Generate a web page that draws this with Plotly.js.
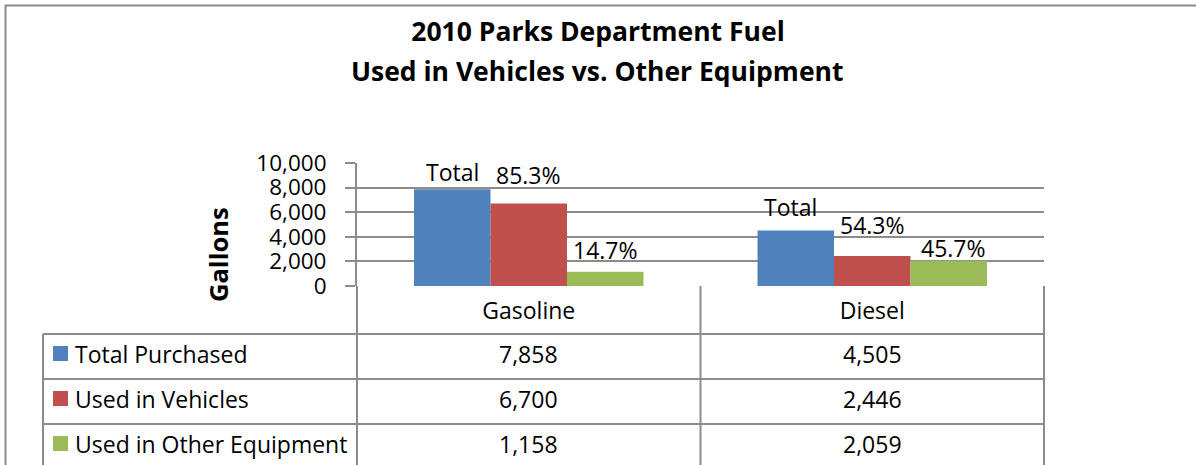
<!DOCTYPE html>
<html><head><meta charset="utf-8">
<script src="https://cdn.plot.ly/plotly-3.0.1.min.js"></script>
<style>html,body{margin:0;padding:0;background:#fff;}#chart{width:1196px;height:465px;}</style>
</head><body><div id="chart"></div>
<script>
// ---- data ----
const categories = ['Gasoline', 'Diesel'];
const seriesNames = ['Total Purchased', 'Used in Vehicles', 'Used in Other Equipment'];
const totalPurchased = [7858, 4505];
const usedInVehicles = [6700, 2446];
const usedInOtherEquipment = [1158, 2059];
const gasolineLabels = ['Total', '85.3%', '14.7%'];
const dieselLabels = ['Total', '54.3%', '45.7%'];
const yTickValues = [0, 2000, 4000, 6000, 8000, 10000];
const titleLines = ['2010 Parks Department Fuel', 'Used in Vehicles vs. Other Equipment'];
const yTitle = 'Gallons';

// ---- style / layout ----
const colors = ['#4F81BD', '#C0504D', '#9BBB59'];
const W = 1196, H = 465;
const M = {l: 357, r: 152, t: 163, b: 179};
const plotW = W - M.l - M.r, plotH = H - M.t - M.b;
const px = x => (x - M.l) / plotW;          // pixel x -> paper
const py = y => (H - M.b - y) / plotH;      // pixel y -> paper
const FONT = '"Open Sans", Lato, sans-serif';
const gray = '#8c8c8c';
const fs = 23;
const tickFs = 22.5;
const tfs = 26.5;

const seriesValues = [totalPurchased, usedInVehicles, usedInOtherEquipment];
const labelSets = [gasolineLabels, dieselLabels];
const labelRaise = [[17, 29, 22], [24, 31, 13]];
const labelNudge = [[0, 0, 0], [-5, 0, 5]];
const barGap = 0.332;
const barPx = plotW / categories.length * (1 - barGap) / seriesNames.length;

const traces = seriesNames.map((name, i) => ({
  type: 'bar', name: name, x: categories, y: seriesValues[i],
  marker: {color: colors[i], line: {width: 0}},
  hoverinfo: 'x+y+name'
}));

const annotations = [];
labelSets.forEach((labels, c) => {
  labels.forEach((t, i) => {
    annotations.push({
      xref: 'x', yref: 'y', x: categories[c], y: seriesValues[i][c],
      text: t, showarrow: false, xanchor: 'center', yanchor: 'middle',
      xshift: (i - 1) * barPx + labelNudge[c][i], yshift: labelRaise[c][i],
      font: {family: FONT, size: fs, color: '#000'}
    });
  });
});

// second title line
annotations.push({
  xref: 'paper', yref: 'paper', x: px(597), y: py(71), xanchor: 'center', yanchor: 'middle',
  text: '<b>' + titleLines[1] + '</b>', showarrow: false,
  font: {family: FONT, size: tfs, color: '#000'}
});
// y axis title
annotations.push({
  xref: 'paper', yref: 'paper', x: px(218), y: py(255), xanchor: 'center', yanchor: 'middle',
  text: '<b>' + yTitle + '</b>', textangle: -90, showarrow: false,
  font: {family: FONT, size: 25.5, color: '#000'}
});

// data table
const rowTops = [334, 379, 424];
const rowH = 45;
const colCenters = [528.5, 872];
const shapes = [];
const line = (x0, y0, x1, y1) => shapes.push({
  type: 'line', xref: 'paper', yref: 'paper', x0: px(x0), y0: py(y0), x1: px(x1), y1: py(y1),
  line: {color: gray, width: 2}
});
rowTops.forEach(y => line(43, y, 1044, y));
line(43, 334, 43, 470);
line(357, 286, 357, 470);
line(700.5, 286, 700.5, 470);
line(1044, 286, 1044, 470);
// outer chart border
line(5, 5.5, 1200, 5.5);
line(5.5, 5, 5.5, 470);

seriesNames.forEach((name, i) => {
  const cy = rowTops[i] + rowH / 2 - 3;
  shapes.push({type: 'rect', xref: 'paper', yref: 'paper',
    x0: px(53), x1: px(68), y0: py(cy - 7.5), y1: py(cy + 7.5),
    fillcolor: colors[i], line: {width: 0}});
  annotations.push({xref: 'paper', yref: 'paper', x: px(73), y: py(cy), xanchor: 'left', yanchor: 'middle',
    text: name, showarrow: false, font: {family: FONT, size: fs, color: '#000'}});
  categories.forEach((cat, c) => {
    annotations.push({xref: 'paper', yref: 'paper', x: px(colCenters[c]), y: py(cy), xanchor: 'center', yanchor: 'middle',
      text: seriesValues[i][c].toLocaleString('en-US'), showarrow: false,
      font: {family: FONT, size: fs, color: '#000'}});
  });
});

const layout = {
  width: W, height: H,
  margin: M,
  paper_bgcolor: '#fff', plot_bgcolor: '#fff',
  showlegend: false,
  barmode: 'group', bargap: barGap, bargroupgap: 0,
  title: {text: '<b>' + titleLines[0] + '</b>', x: 0.5, xref: 'container', xanchor: 'center',
    y: 1 - 32 / H, yref: 'container', yanchor: 'middle',
    font: {family: FONT, size: tfs, color: '#000'}},
  xaxis: {type: 'category', showgrid: false, zeroline: false, showline: false, ticks: '',
    tickfont: {family: FONT, size: fs, color: '#000'}, ticklabelstandoff: 9, fixedrange: true},
  yaxis: {range: [0, 10000], tickvals: yTickValues, tickformat: ',', showgrid: true,
    gridcolor: gray, gridwidth: 2, zeroline: false, showline: true, linecolor: gray, linewidth: 2,
    ticks: 'outside', ticklen: 10, tickcolor: gray, tickwidth: 2, ticklabelstandoff: 14,
    tickfont: {family: FONT, size: tickFs, color: '#000'}, fixedrange: true},
  annotations: annotations,
  shapes: shapes,
  font: {family: FONT}
};

Plotly.newPlot('chart', traces, layout, {displayModeBar: false, staticPlot: true});
</script>
</body></html>
